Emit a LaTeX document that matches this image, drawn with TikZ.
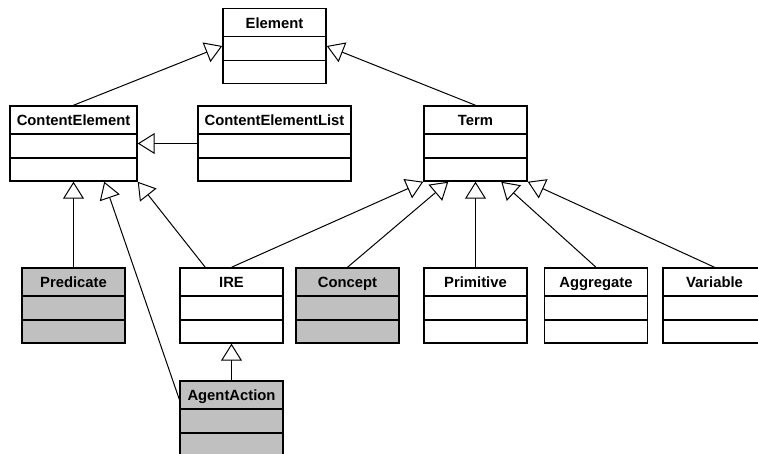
\documentclass[tikz,border=0pt]{standalone}
\usepackage{fontspec}
\setmainfont{Liberation Sans}
\usetikzlibrary{arrows.meta,calc}
\definecolor{grigio}{HTML}{C0C0C0}
\tikzset{
>={Triangle[open,length=12.75pt,width=15.75pt]},
classe/.style={draw,line width=1.1pt,fill=white,inner sep=0pt,
  minimum width=77.25pt,minimum height=56.25pt,
  text height=14.625pt,text depth=41.625pt,
  font=\fontsize{11.1}{13}\selectfont\bfseries,
  path picture={
    \draw[line width=1.1pt]
      ([yshift=-21pt]path picture bounding box.north west) -- ([yshift=-21pt]path picture bounding box.north east)
      ([yshift=-39pt]path picture bounding box.north west) -- ([yshift=-39pt]path picture bounding box.north east);}},
grigia/.style={classe,fill=grigio},
eredita/.style={->,line width=0.75pt}}

\begin{document}
\begin{tikzpicture}[x=0.75pt,y=-0.75pt]
\useasboundingbox (0,0) rectangle (758,454);

      % first two rows
      \node[classe] (el) at (274.5,46) {Element};
      \node[classe,minimum width=95.25pt] (ce) at (73.5,143.5) {ContentElement};
      \node[classe,minimum width=114.75pt] (cel) at (274.5,143.5) {ContentElementList};
      \node[classe] (term) at (475.5,143.5) {Term};

      % leaves
      \node[grigia] (pred) at (73.5,305.5) {Predicate};
      \node[classe] (ire) at (231.5,305.5) {IRE};
      \node[grigia] (conc) at (347.5,305.5) {Concept};
      \node[classe] (prim) at (475.5,305.5) {Primitive};
      \node[classe] (aggr) at (596,305.5) {Aggregate};
      \node[classe] (var) at (714.5,305.5) {Variable};
      \node[grigia] (aa) at (231.5,418.5) {AgentAction};

      \path[eredita] (ce.north) edge (el.west) (term.north) edge (el.east);
      \path[eredita] (cel.west) edge (ce.east);

      \path[eredita] (pred.north) edge (ce.south);
      \path[eredita] ($(aa.north west)+(0,19)$) edge ($(ce.south west)+(95,0)$);
      \path[eredita] ($(ire.north west)+(26,0)$) edge (ce.south east);
      \path[eredita] (aa.north) edge (ire.south);

      \path[eredita] (ire.north) edge (term.south west);
      \path[eredita] (conc.north) edge ($(term.south west)+(25,0)$);
      \path[eredita] (prim.north) edge (term.south);
      \path[eredita] (aggr.north) edge ($(term.south west)+(78,0)$);
      \path[eredita] (var.north) edge (term.south east);
\end{tikzpicture}
\end{document}
